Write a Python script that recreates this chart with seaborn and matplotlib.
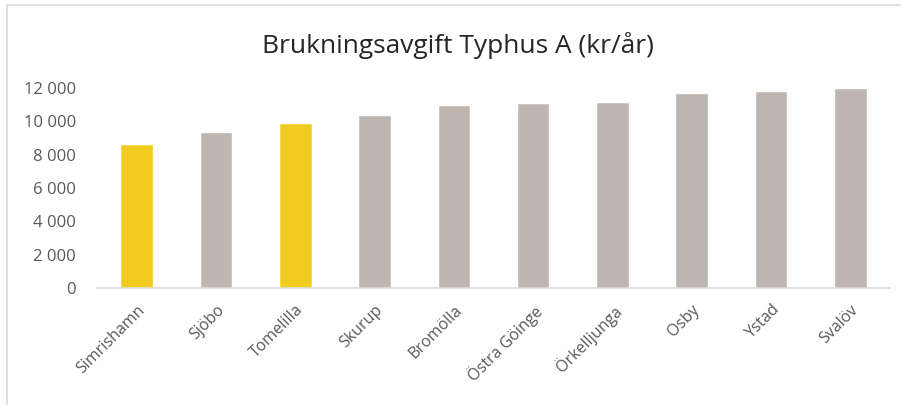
import numpy as np
import pandas as pd
import seaborn as sns
import matplotlib.pyplot as plt
from matplotlib.lines import Line2D

kommuner = ['Simrishamn', 'Sjöbo', 'Tomelilla', 'Skurup', 'Bromölla',
            'Östra Göinge', 'Örkelljunga', 'Osby', 'Ystad', 'Svalöv']
avgift = [8660, 9350, 9900, 10360, 10960, 11120, 11130, 11700, 11820, 12000]
markerade = ['Simrishamn', 'Tomelilla']

YELLOW = '#F2CB20'
GREY = '#BFB6B1'
TEXT = '#595959'

df = pd.DataFrame({'kommun': kommuner, 'avgift': avgift})
df['grupp'] = np.where(df['kommun'].isin(markerade), 'markerad', 'övrig')

sns.set_theme(style='white')
plt.rcParams['font.family'] = ['Open Sans', 'DejaVu Sans']

fig = plt.figure(figsize=(9.01, 4.05), dpi=100)
ax = fig.add_axes([0.1077, 0.289, 0.880, 0.494])

sns.barplot(data=df, x='kommun', y='avgift', hue='grupp',
            palette={'markerad': YELLOW, 'övrig': GREY}, saturation=1,
            dodge=False, width=0.41, legend=False, ax=ax)

ax.set_ylim(0, 12000)
ax.set_yticks(range(0, 12001, 2000))
ax.set_yticklabels([f'{v:,}'.replace(',', ' ') for v in range(0, 12001, 2000)])
ax.set_xlim(-0.5, len(kommuner) - 0.5)
ax.set_xlabel('')
ax.set_ylabel('')

for side in ['top', 'right', 'left']:
    ax.spines[side].set_visible(False)
ax.spines['bottom'].set_color('#D9D9D9')
ax.spines['bottom'].set_linewidth(1.2)

ax.tick_params(axis='y', labelsize=12, colors=TEXT, length=0, pad=15)
ax.tick_params(axis='x', labelsize=11.5, colors=TEXT, length=0, pad=10)
plt.setp(ax.get_xticklabels(), rotation=45, ha='right', rotation_mode='anchor')

fig.text(0.508, 0.888, 'Brukningsavgift Typhus A (kr/år)', ha='center', va='center',
         fontsize=19, color='#262626')

# ram runt diagramytan (bara övre och vänstra kanten syns)
fig.add_artist(Line2D([0.008, 1.0], [0.988, 0.988], color='#D9D9D9', lw=1.2))
fig.add_artist(Line2D([0.008, 0.008], [0.0, 0.988], color='#D9D9D9', lw=1.2))

fig.savefig('out.png', dpi=100)
